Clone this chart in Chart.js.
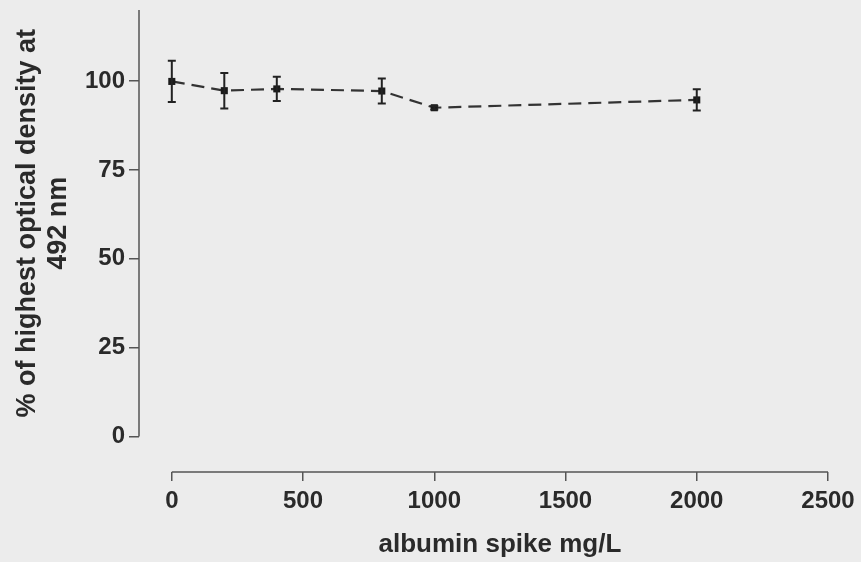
<!DOCTYPE html>
<html>
<head>
<meta charset="utf-8">
<script src="https://cdn.jsdelivr.net/npm/chart.js@4.4.1/dist/chart.umd.min.js"></script>
<style>
  html, body { margin: 0; padding: 0; background: #ececec; }
  #wrap { width: 861px; height: 562px; position: relative; }
</style>
</head>
<body>
<div id="wrap"><canvas id="c" width="861" height="562"></canvas></div>
<script>
// ---- data ----
const spikeMgL = [0, 200, 400, 800, 1000, 2000];
const percentOD = [99.9, 97.3, 97.8, 97.2, 92.5, 94.7];
const errorOD = [5.8, 5.0, 3.4, 3.5, 0.5, 3.0];
const xTickValues = [0, 500, 1000, 1500, 2000, 2500];
const yTickValues = [0, 25, 50, 75, 100];
const xTitle = 'albumin spike mg/L';
const yTitle = ['% of highest optical density at', '492 nm'];

const INK = '#2a2a2a';
const FONT = '"Liberation Sans", Arial, sans-serif';

const points = spikeMgL.map((x, i) => ({ x: x, y: percentOD[i] }));

const axesPlugin = {
  id: 'prismAxes',
  beforeDraw(chart) {
    const ctx = chart.ctx;
    ctx.save();
    ctx.fillStyle = '#ececec';
    ctx.fillRect(0, 0, chart.width, chart.height);
    ctx.restore();
  },
  afterDraw(chart) {
    const ctx = chart.ctx;
    const xs = chart.scales.x, ys = chart.scales.y;
    const area = chart.chartArea;
    ctx.save();
    ctx.strokeStyle = '#555';
    ctx.lineWidth = 1.5;
    ctx.beginPath();
    ctx.moveTo(area.left, ys.getPixelForValue(0));
    ctx.lineTo(area.left, ys.getPixelForValue(120));
    ctx.stroke();
    ctx.beginPath();
    ctx.moveTo(xs.getPixelForValue(0), area.bottom);
    ctx.lineTo(xs.getPixelForValue(2500), area.bottom);
    ctx.stroke();
    ctx.fillStyle = INK;
    ctx.textAlign = 'center';
    ctx.textBaseline = 'alphabetic';
    ctx.font = 'bold 26px ' + FONT;
    ctx.fillText(xTitle, (xs.getPixelForValue(0) + xs.getPixelForValue(2500)) / 2, 552);
    const yc = (ys.getPixelForValue(0) + ys.getPixelForValue(120)) / 2;
    ctx.translate(0, yc);
    ctx.rotate(-Math.PI / 2);
    ctx.font = 'bold 27px ' + FONT;
    ctx.fillText(yTitle[0], 0, 35);
    ctx.fillText(yTitle[1], 0, 66);
    ctx.restore();
  }
};

const errorBarPlugin = {
  id: 'errorBars',
  afterDatasetsDraw(chart) {
    const ctx = chart.ctx;
    const xs = chart.scales.x, ys = chart.scales.y;
    ctx.save();
    ctx.strokeStyle = '#222';
    ctx.lineWidth = 2;
    spikeMgL.forEach((xv, i) => {
      const px = xs.getPixelForValue(xv);
      const top = ys.getPixelForValue(percentOD[i] + errorOD[i]);
      const bot = ys.getPixelForValue(percentOD[i] - errorOD[i]);
      ctx.beginPath();
      ctx.moveTo(px, top); ctx.lineTo(px, bot);
      ctx.moveTo(px - 4, top); ctx.lineTo(px + 4, top);
      ctx.moveTo(px - 4, bot); ctx.lineTo(px + 4, bot);
      ctx.stroke();
    });
    ctx.restore();
  }
};

new Chart(document.getElementById('c'), {
  type: 'line',
  data: {
    datasets: [{
      data: points,
      borderColor: '#333',
      borderWidth: 2.2,
      borderDash: [13, 7],
      pointStyle: 'rect',
      pointRadius: 5,
      pointBackgroundColor: '#1a1a1a',
      pointBorderColor: '#1a1a1a',
      pointBorderWidth: 0,
      tension: 0,
      fill: false
    }]
  },
  options: {
    responsive: false,
    animation: false,
    devicePixelRatio: 1,
    layout: { padding: { top: 10, right: 33, left: 0, bottom: 0 } },
    plugins: { legend: { display: false }, tooltip: { enabled: false } },
    scales: {
      x: {
        type: 'linear',
        min: -125,
        max: 2500,
        border: { display: false },
        grid: { drawOnChartArea: false, drawTicks: true, tickLength: 9, color: '#555', lineWidth: 1.5 },
        afterBuildTicks(scale) { scale.ticks = xTickValues.map(v => ({ value: v })); },
        afterFit(scale) { scale.height = 90; },
        ticks: { color: INK, padding: 6, maxRotation: 0, callback: v => String(v),
                 font: { family: FONT, size: 24, weight: 'bold' } }
      },
      y: {
        type: 'linear',
        min: -10,
        max: 120,
        border: { display: false },
        grid: { drawOnChartArea: false, drawTicks: true, tickLength: 10, color: '#555', lineWidth: 1.5 },
        afterBuildTicks(scale) { scale.ticks = yTickValues.map(v => ({ value: v })); },
        afterFit(scale) { scale.width = 139; },
        ticks: { color: INK, padding: 4, callback: v => String(v),
                 font: { family: FONT, size: 24, weight: 'bold', lineHeight: 0.4 } }
      }
    }
  },
  plugins: [axesPlugin, errorBarPlugin]
});
</script>
</body>
</html>
